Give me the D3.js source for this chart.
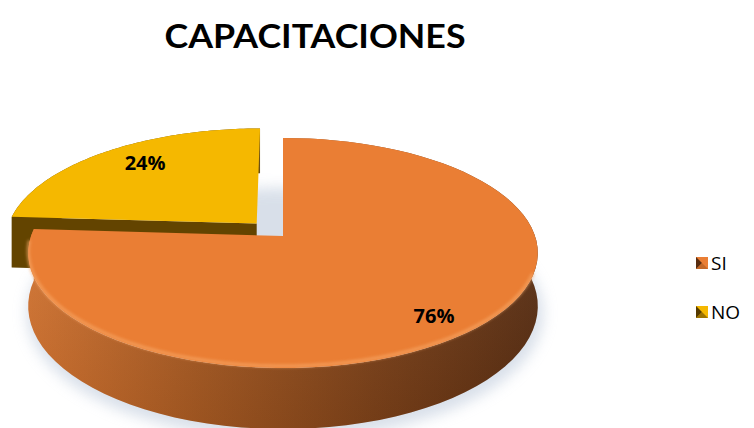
<!DOCTYPE html>
<html>
<head>
<meta charset="utf-8">
<script src="https://cdn.jsdelivr.net/npm/d3@7/dist/d3.min.js"></script>
<style>
  body { margin: 0; background: #fff; }
  svg { display: block; }
</style>
</head>
<body>
<div id="chart"></div>
<script>
// data
var categories = ["SI", "NO"];
var values = [76, 24];
var labels = ["76%", "24%"];

// styles per category
var topColors = ["#EA7E34", "#F5B800"];
var sideColors = [["#D6742F", "#A85A22", "#7E4219", "#582C10"], ["#6B4B00", "#634400", "#5C3F00", "#553A00"]];
var explode = [0, 0.155];
var labelRadius = [0.8, 0.72];
var labelDy = [15, 0];

var width = 754, height = 428;

// 3d projection of the pie disk
var D = 6.76, RX = 252, K = 112.5, H = 52, cx = 283, cy = 236;

function proj(X, Z, y) {
    var s = D / (D - Z);
    return [cx + X * RX * s, cy + (Z * K + y) * s];
}

var svg = d3.select("#chart").append("svg")
    .attr("width", width)
    .attr("height", height);

var defs = svg.append("defs");

defs.append("filter").attr("id", "blur")
    .attr("x", "-20%").attr("y", "-20%").attr("width", "140%").attr("height", "140%")
    .append("feGaussianBlur").attr("stdDeviation", 7);

defs.append("filter").attr("id", "soft")
    .append("feGaussianBlur").attr("stdDeviation", 1.6);

sideColors.forEach(function(c, i) {
    var g = defs.append("linearGradient")
        .attr("id", "side" + i)
        .attr("gradientUnits", "userSpaceOnUse")
        .attr("x1", 30).attr("x2", 545).attr("y1", 0).attr("y2", 0);
    c.forEach(function(col, j) {
        g.append("stop").attr("offset", j / (c.length - 1)).attr("stop-color", col);
    });
});

var vshade = defs.append("linearGradient")
    .attr("id", "vshade").attr("x1", 0).attr("x2", 0).attr("y1", 0).attr("y2", 1);
vshade.append("stop").attr("offset", 0).attr("stop-color", "#fff").attr("stop-opacity", 0.12);
vshade.append("stop").attr("offset", 1).attr("stop-color", "#000").attr("stop-opacity", 0.08);

// title
svg.append("text")
    .attr("x", 315)
    .attr("y", 48)
    .attr("text-anchor", "middle")
    .style("font-family", "Lato, 'Open Sans', sans-serif")
    .style("font-weight", "bold")
    .style("font-size", "33px")
    .attr("textLength", 301)
    .attr("lengthAdjust", "spacingAndGlyphs")
    .attr("fill", "#000")
    .text("CAPACITACIONES");

var pie = d3.pie().sort(null).value(function(d) { return d; });
var arcs = pie(values);

function sliceGeom(a, i) {
    var mid = (a.startAngle + a.endAngle) / 2;
    var ox = Math.sin(mid) * explode[i], oz = -Math.cos(mid) * explode[i];
    var rim = function(t, y) { return proj(ox + Math.sin(t), oz - Math.cos(t), y); };
    var vert = function(y) { return proj(ox, oz, y); };
    var samples = d3.range(0, 81).map(function(k) {
        return a.startAngle + (a.endAngle - a.startAngle) * k / 80;
    });
    return { rim: rim, vert: vert, samples: samples, ox: ox, oz: oz, mid: mid };
}

var line = d3.line();

// soft shadow beneath the disk
var shadowPts = d3.range(0, 121).map(function(k) {
    var t = 2 * Math.PI * k / 120;
    var p = proj(Math.sin(t) * 1.01, -Math.cos(t) * 1.01 + 0.02, H + 4);
    return [p[0] + 2, p[1]];
});
svg.append("path")
    .attr("d", line(shadowPts) + "Z")
    .attr("fill", "#b9c6d8")
    .attr("opacity", 0.55)
    .attr("filter", "url(#blur)");

// draw back slice first (NO), then the front slice (SI)
var order = [1, 0];
order.forEach(function(i) {
    var a = arcs[i];
    var g = sliceGeom(a, i);
    var grp = svg.append("g").attr("class", "slice-" + categories[i]);

    // outer wall
    var topRim = g.samples.map(function(t) { return g.rim(t, 0); });
    var botRim = g.samples.map(function(t) { return g.rim(t, H); }).reverse();
    grp.append("path")
        .attr("d", line(topRim.concat(botRim)) + "Z")
        .attr("fill", "url(#side" + i + ")");
    grp.append("path")
        .attr("d", line(topRim.concat(botRim)) + "Z")
        .attr("fill", "url(#vshade)");

    // radial cut face toward the viewer
    var t0 = a.startAngle;
    var face = [g.vert(0), g.rim(t0, 0), g.rim(t0, H), g.vert(H)];
    grp.append("path")
        .attr("d", line(face) + "Z")
        .attr("fill", sideColors[i][1]);

    // top face
    var topPts = [g.vert(0)].concat(topRim);
    grp.append("path")
        .attr("d", line(topPts) + "Z")
        .attr("fill", topColors[i]);

    // light bevel along the front rim
    var front = g.samples.filter(function(t) {
        var tt = t % (2 * Math.PI);
        return tt > Math.PI * 0.6 && tt < Math.PI * 1.5;
    }).map(function(t) {
        var p = g.rim(t, 0);
        return [p[0], p[1] - 2];
    });
    if (front.length > 1) {
        grp.append("path")
            .attr("d", line(front))
            .attr("fill", "none")
            .attr("stroke", "#F7A868")
            .attr("stroke-width", 3)
            .attr("opacity", 0.7)
            .attr("filter", "url(#soft)");
    }

    // percentage label
    var r = labelRadius[i];
    var lp = proj(g.ox + Math.sin(g.mid) * r, g.oz - Math.cos(g.mid) * r, 0);
    grp.append("text")
        .attr("x", lp[0])
        .attr("y", lp[1] + labelDy[i])
        .attr("text-anchor", "middle")
        .style("font-family", "'Open Sans', sans-serif")
        .style("font-weight", "bold")
        .style("font-size", "20px")
        .attr("fill", "#000")
        .text(labels[i]);
});

// legend
var legend = svg.append("g").attr("class", "legend");
var legendY = [263, 312];
categories.forEach(function(c, i) {
    var y = legendY[i];
    var m = legend.append("g").attr("transform", "translate(696," + (y - 6) + ")");
    m.append("rect").attr("width", 12).attr("height", 12).attr("fill", topColors[i]);
    m.append("path").attr("d", "M0,0L6,6L0,12Z").attr("fill", sideColors[i][3]);
    m.append("path").attr("d", "M0,12L6,6L12,12Z").attr("fill", sideColors[i][1]).attr("opacity", 0.6);
    legend.append("text")
        .attr("x", 711)
        .attr("y", y + 7)
        .style("font-family", "'Open Sans', sans-serif")
        .style("font-size", "19px")
        .attr("fill", "#000")
        .text(c);
});
</script>
</body>
</html>
